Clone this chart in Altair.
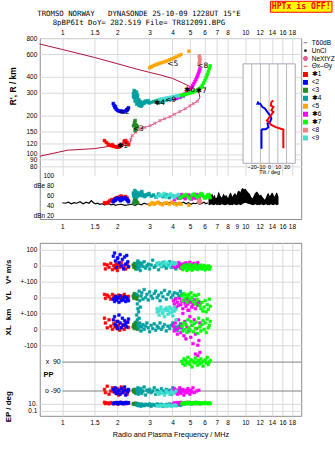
import math
import altair as alt
import pandas as pd

# ---------------- axis / scale values ----------------
F_DOMAIN = [0.7527, 20.23]
R_DOMAIN = [68.2, 800]
DB_DOMAIN = [14, 100]
U_DOMAIN = [-544, 544]
TILT_DOMAIN = [-30, 30]

freq_ticks_top = [1, 1.5, 2, 3, 4, 5, 6, 7, 8, 10, 12, 14, 16, 18]
freq_ticks_mid = [1, 1.5, 2, 3, 4, 5, 6, 7, 8, 9, 10, 12, 14, 16, 18]
r_ticks = [80, 90, 100, 120, 150, 200, 300, 400, 600, 800]
db_ticks = [20, 40, 60, 80, 100]
db_tick_labels = ["dBn 20", "40", "60", "dBe 80", "100"]
low_ticks = [500, 400, 300, 200, 100, 0, -100, -469, -512]
low_tick_labels = ["100", "0", "+-100", "0", "+-100", "0", "-100", "10.", "0.1"]
tilt_ticks = [-20, -10, 0, 10, 20]

# ---------------- legend / traces ----------------
trace_names = ["\u27311", "<2", "<3", "\u27314", "<5", "\u27316", "\u27317", "<8", "<9"]
trace_colors = ["#ff0000", "#0000ff", "#228b22", "#00a0a0", "#ffa500",
                "#ff00ff", "#00ff00", "#f08080", "#40e0d0"]
extra_names = ["T60dB", "UnCl", "NeXtYZ", "\u0398x\u2012\u0398y"]
extra_colors = ["#9090a8", "#000000", "#e06090", "#e07070"]

# top panel traces: frequency (MHz), virtual range R' (km), amplitude (dB)
t1_f = [1.70, 1.74, 1.78, 1.82, 1.86, 1.90, 1.94, 1.98, 2.02, 2.06, 2.10, 2.14, 2.18, 2.22, 2.26, 2.30, 1.88, 2.08]
t1_r = [127, 123, 119, 117, 116, 115, 114, 113, 113, 114, 116, 119, 126, 127, 123, 118, 118, 117]
t1_amp = [46, 45, 47, 50, 52, 51, 54, 56, 55, 58, 59, 57, 56, 58, 55, 50, 49, 53]

t2_f = [1.90, 1.92, 1.94, 1.97, 2.00, 2.04, 2.08, 2.12, 2.16, 2.20, 2.24, 2.28, 2.30, 1.95, 2.10, 2.26]
t2_r = [247, 238, 230, 224, 219, 216, 214, 213, 213, 215, 219, 224, 229, 234, 216, 221]
t2_amp = [48, 50, 52, 54, 55, 53, 50, 52, 54, 56, 53, 50, 48, 51, 55, 52]

t3_f = [2.45, 2.48, 2.50, 2.50, 2.50, 2.52, 2.55, 2.58, 2.48, 2.53]
t3_r = [166, 168, 152, 166, 182, 170, 165, 163, 175, 158]
t3_amp = [45, 48, 52, 55, 50, 53, 47, 46, 51, 49]

t4_f = [2.47, 2.50, 2.52, 2.49, 2.54, 2.47, 2.52, 2.57, 2.50, 2.60, 2.66, 2.72, 2.55, 2.63, 2.70,
        2.76, 2.82, 2.90, 2.98, 3.06, 3.15, 3.25, 3.35, 3.45, 3.55, 3.70, 3.85, 4.00, 4.20, 4.40,
        4.60, 4.80, 4.98, 2.45, 2.55, 2.58, 2.62, 2.68, 2.74, 2.45, 2.56, 2.64, 2.80, 2.86, 2.95]
t4_r = [312, 300, 305, 290, 282, 275, 270, 262, 258, 252, 248, 240, 245, 238, 236,
        250, 255, 254, 250, 252, 256, 258, 250, 254, 257, 262, 266, 266, 270, 275,
        283, 295, 311, 295, 300, 285, 265, 255, 248, 280, 272, 244, 248, 258, 260]
t4_amp = [58, 62, 66, 70, 64, 60, 67, 63, 59, 65, 61, 68, 57, 63, 66,
          60, 58, 62, 64, 59, 61, 57, 63, 60, 58, 62, 56, 60, 58, 55,
          57, 60, 58, 63, 66, 61, 64, 60, 62, 65, 59, 63, 61, 60, 62]

t5_f = [3.00, 3.05, 3.10, 3.18, 3.25, 3.33, 3.42, 3.52, 3.62, 3.72, 3.85, 3.97, 4.10, 4.22, 4.35, 4.45, 4.92]
t5_r = [470, 476, 482, 490, 497, 503, 510, 517, 523, 530, 540, 550, 562, 572, 585, 595, 632]
t5_amp = [42, 44, 46, 43, 45, 47, 44, 42, 45, 46, 43, 47, 44, 42, 45, 43, 41]

t6_f = [4.10, 4.20, 4.30, 4.40, 4.50, 4.60, 4.70, 4.80, 4.90, 5.00, 5.08, 5.15, 5.22, 5.30, 5.37, 5.44, 5.50, 5.55, 5.60, 5.65]
t6_r = [270, 273, 276, 280, 285, 290, 296, 302, 310, 320, 330, 340, 352, 365, 380, 395, 410, 425, 442, 460]
t6_amp = [52, 58, 55, 60, 62, 57, 54, 59, 61, 56, 53, 60, 58, 55, 57, 62, 59, 54, 56, 60]

t7_f = [4.40, 4.50, 4.62, 4.75, 4.88, 5.00, 5.12, 5.25, 5.38, 5.50, 5.62, 5.72, 5.82, 5.92, 6.02, 6.12, 6.20, 6.28, 6.36, 6.42]
t7_r = [286, 288, 290, 293, 296, 299, 302, 306, 311, 316, 322, 330, 342, 358, 375, 395, 415, 438, 462, 485]
t7_amp = [55, 58, 60, 62, 57, 54, 61, 63, 59, 56, 60, 64, 62, 58, 55, 57, 60, 62, 59, 56]

t8_f = [5.60, 5.62, 5.64, 5.66, 5.63, 5.61]
t8_r = [500, 515, 530, 548, 565, 580]
t8_amp = [48, 50, 46, 49, 51, 47]

t9_f = [3.30, 3.40, 3.50, 3.60, 3.70, 3.80, 3.90, 4.00, 4.10, 4.20, 4.30]
t9_r = [262, 266, 268, 270, 272, 274, 276, 278, 280, 282, 284]
t9_amp = [58, 62, 60, 64, 57, 61, 63, 59, 56, 60, 62]

# trace number markers in the top panel
mark_f = [2.13, 2.18, 2.60, 3.40, 4.02, 4.96, 5.74, 5.85, 3.92]
mark_r = [116, 214, 157, 250, 502, 317, 309, 485, 261]

# profile lines (top panel)
prof_hi_f = [0.7527, 1.0, 1.5, 2.0, 2.5, 3.0, 3.5, 4.0, 4.5, 4.87, 5.19, 5.46, 5.6, 5.65, 5.57, 5.46]
prof_hi_r = [719, 652, 565, 505, 462, 432, 410, 388, 360, 341, 327, 312, 294, 276, 266, 257]
nextyz_f = [5.46, 5.2, 4.98, 4.7, 4.39, 4.1, 3.88, 3.62, 3.42, 3.2, 3.02, 2.82, 2.66, 2.52, 2.41, 2.37]
nextyz_r = [257, 247, 237, 225, 214, 204, 195, 188, 182, 173, 166, 161, 157, 148, 139, 130]
prof_lo_f = [0.7527, 1.07, 1.5, 1.83, 2.1, 2.33, 2.35, 2.37]
prof_lo_r = [96, 107, 110, 115, 116, 117, 124, 130]

# tilt inset
thx_tilt = [4.9, 2.6, 1.9, 4.9, 2.6, 4.9, 1.9, -0.8, -2.6, 0.0, 1.9, 7.7, 13.4, 16.3, 16.3]
thx_r = [261, 254, 239, 232, 219, 213, 200, 189, 182, 177, 169, 162, 157, 155, 111]
thy_tilt = [-12.6, -13.4, -10.3, -7.7, -4.9, -1.9, 1.1, 2.6, 1.1, -1.9, -0.8, -3.8, -7.7, -8.8, -8.8]
thy_r = [256, 246, 246, 232, 226, 212, 199, 189, 178, 173, 162, 156, 156, 153, 110]
inset_tilt = [-30, 30]
inset_r = [504, 84.5]

# amplitude panel: noise line and bursts
noise_f = [1.00, 1.04, 1.08, 1.12, 1.16, 1.20, 1.25, 1.30, 1.35, 1.40, 1.44, 1.48, 1.52, 1.56, 1.60, 1.65,
           1.70, 1.75, 1.80, 1.85, 1.90, 1.95, 2.00, 2.10, 2.20, 2.30, 2.40, 2.50, 2.60, 2.70, 2.80, 2.90,
           3.00, 3.10, 3.20, 3.30, 3.40, 3.50, 3.60, 3.70, 3.80, 3.90, 4.00, 4.15, 4.30, 4.45, 4.60, 4.75,
           4.90, 5.05, 5.20, 5.35, 5.50, 5.65, 5.80, 5.95, 6.10, 6.25]
noise_db = [46, 45, 47, 44, 46, 45, 48, 44, 47, 45, 50, 46, 44, 45, 43, 44,
            42, 43, 44, 42, 43, 41, 42, 43, 41, 42, 43, 41, 44, 42, 45, 43,
            44, 46, 43, 45, 47, 44, 46, 43, 45, 47, 44, 46, 43, 45, 47, 44,
            46, 43, 45, 44, 46, 43, 45, 47, 44, 46]
burst_f = [6.30, 6.40, 6.50, 6.60, 6.70, 6.80, 6.90, 7.00, 7.15, 7.30, 7.45, 7.60, 7.75, 7.90, 8.05, 8.20,
           8.35, 8.50, 8.65, 8.80, 8.95, 9.10, 9.25, 9.40, 9.55, 9.70, 9.85, 10.0, 10.2, 10.4, 10.6, 10.8,
           11.0, 11.2, 11.4, 11.6, 11.8, 12.0, 12.2, 12.4, 12.6, 12.8, 13.0, 13.2, 13.4, 13.6, 13.8, 14.0,
           14.2, 14.4, 14.6, 14.8, 15.0, 15.2]
burst_top = [55, 66, 60, 64, 58, 62, 55, 57, 68, 60, 56, 64, 59, 61, 55, 63,
             66, 58, 62, 65, 60, 68, 70, 66, 73, 75, 72, 74, 70, 66, 63, 57,
             55, 62, 66, 68, 64, 60, 62, 58, 55, 52, 57, 63, 65, 59, 62, 66,
             64, 58, 61, 66, 64, 58]
burst_base = [42, 41, 43, 42, 41, 42, 43, 41, 42, 41, 43, 42, 41, 42, 43, 41,
              42, 41, 43, 42, 41, 42, 43, 41, 42, 44, 45, 46, 45, 44, 43, 42,
              41, 42, 43, 41, 42, 41, 43, 42, 41, 42, 43, 41, 42, 41, 43, 42,
              41, 42, 43, 41, 42, 42]

# lower panel: V* (m/s), YL (km), XL (km), PP (deg), EP (deg)
l1_f = [1.70, 1.72, 1.76, 1.80, 1.84, 1.88, 1.91, 1.94, 1.97, 2.00, 2.03, 2.06, 2.10, 2.14, 2.18, 2.22, 2.26, 2.30]
l1_v = [10, -20, 5, -10, 15, -25, 0, -15, 10, -30, 5, -10, 20, -5, 0, -20, 12, -8]
l1_yl = [20, -5, 15, 5, -10, 20, 0, 10, -15, 5, 15, -5, 10, 0, 20, 5, -10, 8]
l1_xl = [70, 40, 10, 60, 20, 0, 35, 15, 50, 5, 25, -5, 10, 30, 0, 20, 45, 12]
l1_pp = [-80, -100, -60, -110, -90, -70, -95, -85, -105, -75, -115, -90, -65, -100, -80, -95, -110, -85]
l1_ep = [30, 12, 20, 10, 25, 15, 11, 18, 14, 22, 10, 16, 28, 12, 19, 13, 24, 17]

l2_f = [1.90, 1.93, 1.95, 1.98, 2.01, 2.04, 2.07, 2.10, 2.13, 2.16, 2.19, 2.22, 2.25, 2.28, 2.30, 2.00]
l2_v = [60, 80, 30, -10, 50, 20, 70, 0, 40, -20, 55, 10, 65, 25, -5, 45]
l2_yl = [-10, -25, 5, -15, 0, -30, 10, -20, -5, -15, 5, -25, 0, -10, -20, -5]
l2_xl = [60, 80, 30, 20, 50, 90, 40, 10, 70, 25, 55, 35, 15, 45, 65, 5]
l2_pp = [-80, -95, -70, -105, -90, -85, -110, -75, -100, -90, -65, -115, -85, -95, -80, -100]
l2_ep = [12, 20, 15, 25, 10, 18, 30, 14, 22, 11, 16, 28, 13, 19, 24, 17]

l3_f = [2.44, 2.46, 2.48, 2.50, 2.52, 2.54, 2.56, 2.58, 2.47, 2.53]
l3_v = [5, -10, 15, 0, -20, 10, -5, 20, 0, -15]
l3_yl = [10, -5, 15, 0, 20, 5, -10, 10, 25, 0]
l3_xl = [15, 30, 5, 40, 20, 10, 35, 0, 25, 45]
l3_pp = [-85, -95, -80, -100, -90, -88, -92, -98, -82, -105]
l3_ep = [10, 12, 9, 14, 11, 10, 13, 9, 12, 15]

l4_f = [2.55, 2.57, 2.59, 2.61, 2.63, 2.65, 2.67, 2.69, 2.72, 2.76, 2.80, 2.85, 2.90, 2.95, 3.00, 3.06, 3.12, 3.18,
        3.24, 3.30, 3.36, 3.42, 3.48, 3.55, 3.62, 3.70, 3.78, 3.86, 3.94, 4.02, 4.10, 4.18, 4.26, 4.34, 4.42, 4.50]
l4_v = [10, -20, 30, 0, -10, 20, -30, 5, 15, -5, 25, -15, 0, 10, -20, 5, 35, -10,
        0, 15, -25, 10, -5, 20, 0, -15, 5, 25, -10, 0, 15, -20, 5, -5, 10, 0]
l4_yl = [20, -40, -70, -90, 40, -20, -60, 10, 30, -10, 50, 0, 20, -15, 35, 10, -5, 25,
         40, 0, 15, -20, 30, 5, 45, -10, 20, 35, 0, 15, 30, -5, 25, 10, 40, 20]
l4_xl = [90, 60, 30, 10, 70, 40, 20, -10, 15, 30, 0, 20, 40, 10, -15, 25, 5, 35,
         -5, 20, 10, 40, 0, 15, 30, -10, 20, 5, 25, 40, 0, 15, -5, 20, 35, 10]
l4_pp = [-80, -100, -70, -110, -90, -85, -95, -75, -105, -90, -65, -115, -85, -95, -80, -100, -90, -70,
         -110, -85, -95, -100, -75, -90, -105, -80, -95, -85, -110, -70, -90, -100, -85, -95, -80, -90]
l4_ep = [5, 8, 3, 10, 6, 4, 7, 2, 9, 5, 3, 8, 6, 4, 10, 2, 7, 5,
         3, 9, 6, 4, 8, 2, 5, 7, 3, 10, 4, 6, 8, 3, 5, 7, 4, 6]

l6_f = [4.05, 4.10, 4.15, 4.20, 4.26, 4.32, 4.38, 4.44, 4.50, 4.56, 4.62, 4.68, 4.74, 4.80, 4.86, 4.92, 4.98, 5.04,
        5.10, 5.18, 5.26, 5.34, 5.42, 5.50, 5.58, 5.65]
l6_v = [5, -10, 15, 0, -5, 20, 10, -15, 5, 0, 12, -8, 18, -3, 8, -12, 22, 0, -6, 10, 15, -10, 5, 20, 0, -5]
l6_yl = [-20, -40, -10, -60, -30, -50, -5, -45, -25, -70, -15, -35, -55, -10, -40, -80, -20, -30, -60, -45,
         -15, -70, -35, -50, -25, -40]
l6_xl = [20, -10, 40, 0, -30, 60, 10, -20, 30, 100, -40, 50, -60, 15, 120, -10, 80, -50, 25, -90, 60, -30, 5,
         -100, -70, 40]
l6_pp = [-90, -75, -100, -85, -110, -95, -70, -105, -90, -80, -115, -95, -85, -100, -75, -90, -110, -85, -95,
         -70, -100, 140, -90, 130, -85, 150]
l6_ep = [12, 20, 8, 15, 25, 10, 18, 30, 14, 9, 22, 11, 16, 28, 13, 19, 24, 17, 10, 21, 15, 12, 26, 14, 18, 11]

l7_f = [4.50, 4.56, 4.62, 4.68, 4.74, 4.80, 4.86, 4.92, 4.98, 5.05, 5.12, 5.19, 5.26, 5.33, 5.40, 5.48, 5.56, 5.64,
        5.72, 5.80, 5.88, 5.96, 6.04, 6.12, 6.20, 6.28, 6.36, 6.44]
l7_v = [-10, -25, 0, -15, 5, -30, -5, -20, 8, -12, -28, 0, -18, 6, -8, -24, -2, -15, 4, -20, -10, 2, -26, -6,
        -14, 0, -22, -8]
l7_yl = [10, -20, 25, -5, 15, -30, 5, 20, -10, 30, 0, -25, 15, -40, 10, -15, 20, -50, -70, -30, -85, -60, -20,
         -90, -45, -75, -10, -55]
l7_xl = [20, -10, 40, 0, 30, -20, 60, 10, -5, 50, 25, -15, 35, 5, 45, -25, 70, 15, -10, 30, 55, 0, 40, -20, 65,
         10, 25, 50]
l7_pp = [95, 80, 110, 70, 100, 85, 120, 90, 75, 105, 60, 95, 85, 115, 90, 70, 100, 80, 110, 90, 65, 95, 105, 85,
         120, 75, 90, 100]
l7_ep = [12, 20, 8, 15, 25, 10, 18, 30, 14, 9, 22, 11, 16, 28, 13, 19, 24, 17, 10, 21, 15, 12, 26, 14, 18, 11, 20, 13]

l9_f = [3.30, 3.38, 3.46, 3.54, 3.62, 3.70, 3.78, 3.86, 3.94, 4.02, 4.10, 4.18]
l9_v = [10, 20, 0, 15, 25, 5, 18, -5, 12, 22, 8, 15]
l9_yl = [-70, -85, -60, -90, -75, -65, -80, -95, -70, -85, -60, -75]
l9_xl = [110, 90, 130, 100, 80, 120, 95, 140, 105, 85, 115, 60]
l9_pp = [-100, -110, -95, -105, -115, -90, -100, -110, -95, -105, -100, -90]
l9_ep = [3, 2, 4, 3, 5, 2, 3, 4, 2, 3, 5, 4]

pp_line_u = [-206, -388]
pp_labels = ["x\u00a0\u00a090", "o\u00a0-90"]
low_titles = ["V* m/s", "YL", "km", "XL", "EP / deg"]
low_title_u = [362, 212, 94, -6, -487]

# ---------------- tables ----------------
top_sets = [(t1_f, t1_r, t1_amp), (t2_f, t2_r, t2_amp), (t3_f, t3_r, t3_amp), (t4_f, t4_r, t4_amp),
            (t5_f, t5_r, t5_amp), (t6_f, t6_r, t6_amp), (t7_f, t7_r, t7_amp), (t8_f, t8_r, t8_amp),
            (t9_f, t9_r, t9_amp)]
rows = []
for name, (fs, rs, amps) in zip(trace_names, top_sets):
    for f, r, a in zip(fs, rs, amps):
        rows.append({"trace": name, "f": f, "R": r, "dB": a})
top_df = pd.DataFrame(rows)

low_sets = [(0, l1_f, l1_v, l1_yl, l1_xl, l1_pp, l1_ep), (1, l2_f, l2_v, l2_yl, l2_xl, l2_pp, l2_ep),
            (2, l3_f, l3_v, l3_yl, l3_xl, l3_pp, l3_ep), (3, l4_f, l4_v, l4_yl, l4_xl, l4_pp, l4_ep),
            (5, l6_f, l6_v, l6_yl, l6_xl, l6_pp, l6_ep), (6, l7_f, l7_v, l7_yl, l7_xl, l7_pp, l7_ep),
            (8, l9_f, l9_v, l9_yl, l9_xl, l9_pp, l9_ep)]
rows = []
for idx, fs, vs, yls, xls, pps, eps in low_sets:
    for f, v, yl, xl, pp, ep in zip(fs, vs, yls, xls, pps, eps):
        name = trace_names[idx]
        rows.append({"trace": name, "f": f, "u": 400 + v})
        rows.append({"trace": name, "f": f, "u": 200 + yl})
        rows.append({"trace": name, "f": f, "u": xl})
        rows.append({"trace": name, "f": f, "u": -297 + 1.011 * pp})
        rows.append({"trace": name, "f": f, "u": -469 + 21.5 * (math.log10(ep) - 1)})
low_df = pd.DataFrame(rows)

prof_df = pd.DataFrame(
    [{"seg": "hi", "o": i, "f": f, "R": r} for i, (f, r) in enumerate(zip(prof_hi_f, prof_hi_r))]
    + [{"seg": "lo", "o": i, "f": f, "R": r} for i, (f, r) in enumerate(zip(prof_lo_f, prof_lo_r))])
nxt_df = pd.DataFrame({"f": nextyz_f, "R": nextyz_r, "o": list(range(len(nextyz_f)))})
mark_df = pd.DataFrame({"lab": trace_names, "f": mark_f, "R": mark_r})
thx_df = pd.DataFrame({"tilt": thx_tilt, "R": thx_r, "o": list(range(len(thx_r)))})
thy_df = pd.DataFrame({"tilt": thy_tilt, "R": thy_r, "o": list(range(len(thy_r)))})
box_df = pd.DataFrame({"t0": [inset_tilt[0]], "t1": [inset_tilt[1]], "r0": [inset_r[0]], "r1": [inset_r[1]]})
tgrid_df = pd.DataFrame({"tilt": tilt_ticks, "r0": [inset_r[0]] * 5, "r1": [inset_r[1]] * 5})
noise_df = pd.DataFrame({"f": noise_f, "dB": noise_db})
burst_df = pd.DataFrame({"f": burst_f, "top": burst_top, "base": burst_base})
ppl_df = pd.DataFrame({"u": pp_line_u, "f0": [1.0, 1.0], "f1": [F_DOMAIN[1], F_DOMAIN[1]], "lab": pp_labels,
                       "fl": [0.98, 0.98]})
pp_df = pd.DataFrame({"lab": ["PP"], "f": [0.79], "u": [-287]})
lt_df = pd.DataFrame({"lab": low_titles, "u": low_title_u})
hptx_df = pd.DataFrame({"lab": ["HPTx is OFF!"]})

# ---------------- scales, axes, encodings ----------------
LAB_FONT = "Liberation Sans"
H1, H_R = 182, 138          # upper frame height, part used by the R' scale
f_scale = alt.Scale(type="log", domain=F_DOMAIN, nice=False)
r_scale = alt.Scale(type="log", domain=R_DOMAIN, range=[H_R, 0], nice=False)
db_scale = alt.Scale(domain=DB_DOMAIN, range=[H1, H_R], nice=False, zero=False)
u_scale = alt.Scale(domain=U_DOMAIN, nice=False, zero=False)
tilt_scale = alt.Scale(domain=TILT_DOMAIN, range=[204.5, 257], nice=False, zero=False)

ax_f_top = alt.Axis(orient="top", values=freq_ticks_top, format="~g", title=None, labelPadding=3)
ax_f_mid = alt.Axis(orient="bottom", values=freq_ticks_mid, format="~g", title=None, labelPadding=5, grid=False)
ax_f_bot = alt.Axis(orient="bottom", values=freq_ticks_top, format="~g",
                    title="Radio and Plasma Frequency / MHz", titleFontSize=7.3, titleFontWeight="normal",
                    titleFont=LAB_FONT, titlePadding=4, labelPadding=4)
ax_r = alt.Axis(orient="left", values=r_ticks, format="d", labelPadding=3, title="R', R / km", titleX=-22,
                titleY=48, titleFontSize=8.5, titleFont=LAB_FONT, titleFontWeight="bold")
db_expr = " : ".join(f"datum.value == {v} ? '{l}'" for v, l in zip(db_ticks, db_tick_labels)) + " : ''"
ax_db = alt.Axis(orient="left", values=db_ticks, labelExpr=db_expr, title=None, tickSize=0, labelPadding=-14,
                 gridColor={"condition": {"test": "datum.value == 20", "value": "#a8a8ff"}, "value": "#a0a0a0"})
low_expr = " : ".join(f"datum.value == {v} ? '{l}'" for v, l in zip(low_ticks, low_tick_labels)) + " : ''"
ax_u = alt.Axis(values=low_ticks, labelExpr=low_expr, title=None, labelPadding=3)
ax_tilt = alt.Axis(orient="bottom", values=tilt_ticks, format="d", grid=False, offset=-56, labelPadding=1,
                   labelFontSize=5.5, title="Tilt / deg", titleFontSize=5.5, titleFontWeight="normal",
                   titlePadding=0, titleFont=LAB_FONT)

legend_domain = extra_names + trace_names
legend_colors = extra_colors + trace_colors
legend_shapes = ["stroke", "M-0.3,-0.3H0.3V0.3H-0.3Z", "cross", "stroke"] + ["square"] * 9
leg_kw = dict(title=None, orient="none", legendX=264, legendY=1, labelFont=LAB_FONT, labelFontSize=6.6,
              labelColor="black", symbolSize=14, rowPadding=0, clipHeight=7.1, labelOffset=3, padding=0,
              symbolStrokeWidth=1.2, labelLimit=26)
fill_enc = alt.Fill("trace:N", scale=alt.Scale(domain=legend_domain, range=legend_colors),
                    legend=alt.Legend(**leg_kw))
stroke_enc = alt.Stroke("trace:N", scale=alt.Scale(domain=legend_domain, range=legend_colors),
                        legend=alt.Legend(**leg_kw))
shape_enc = alt.Shape("trace:N", scale=alt.Scale(domain=legend_domain, range=legend_shapes),
                      legend=alt.Legend(**leg_kw))

W = 263

# ---------------- upper frame: R' vs f, tilt inset, amplitude ----------------
xf1 = lambda fld="f": alt.X(f"{fld}:Q", scale=f_scale, axis=ax_f_top)
yr = lambda fld="R", ax=ax_r: alt.Y(f"{fld}:Q", scale=r_scale, axis=ax)

prof = alt.Chart(prof_df).mark_line(color="#b0103c", strokeWidth=1).encode(
    x=xf1(), y=yr(), detail="seg:N", order="o:Q")
nxt_line = alt.Chart(nxt_df).mark_line(color="#e0608c", strokeWidth=1).encode(x=xf1(), y=yr(), order="o:Q")
nxt_pts = alt.Chart(nxt_df).mark_point(shape="cross", filled=True, size=14, angle=45, color="#e0608c").encode(
    x=xf1(), y=yr())
sc1 = alt.Chart(top_df).mark_point(filled=True, size=8, opacity=1, strokeWidth=0.6).encode(
    x=xf1(), y=yr(), fill=fill_enc, stroke=stroke_enc, shape=shape_enc)
marks1 = alt.Chart(mark_df).mark_text(font="DejaVu Sans", fontSize=7.5, color="black").encode(
    x=xf1(), y=yr(), text="lab:N")
hbox = alt.Chart(hptx_df).mark_rect(fill="#ffff00", stroke="#ff0000", strokeWidth=1).encode(
    x=alt.value(232), x2=alt.value(294), y=alt.value(-37), y2=alt.value(-26))
htxt = alt.Chart(hptx_df).mark_text(font="DejaVu Sans Mono", fontSize=8.2, fontWeight="bold",
                                    color="#ff0000", baseline="middle").encode(
    x=alt.value(263), y=alt.value(-31.3), text="lab:N")
freq_layer = alt.layer(prof, nxt_line, nxt_pts, sc1, marks1, hbox, htxt)

xt = lambda fld="tilt": alt.X(f"{fld}:Q", scale=tilt_scale, axis=ax_tilt)
ibox = alt.Chart(box_df).mark_rect(fill="white", stroke="#a8a8b8", strokeWidth=1).encode(
    x=xt("t0"), x2="t1:Q", y=yr("r0", None), y2="r1:Q")
igrid = alt.Chart(tgrid_df).mark_rule(color="#b8b8b8", strokeWidth=1).encode(
    x=xt(), y=yr("r0", None), y2="r1:Q")
ithx = alt.Chart(thx_df).mark_line(color="#ff0000", strokeWidth=2).encode(x=xt(), y=yr("R", None), order="o:Q")
ithy = alt.Chart(thy_df).mark_line(color="#0000ff", strokeWidth=2).encode(x=xt(), y=yr("R", None), order="o:Q")
tilt_layer = alt.layer(ibox, igrid, ithy, ithx)

xf2 = alt.X("f:Q", scale=f_scale, axis=ax_f_mid)
noise = alt.Chart(noise_df).mark_line(color="black", strokeWidth=1.2).encode(
    x=xf2, y=alt.Y("dB:Q", scale=db_scale, axis=ax_db))
burst = alt.Chart(burst_df).mark_area(color="black").encode(
    x=xf2, y=alt.Y("top:Q", scale=db_scale, axis=ax_db), y2="base:Q")
amp = alt.Chart(top_df).mark_point(filled=True, size=8, opacity=1, strokeWidth=0.6).encode(
    x=xf2, y=alt.Y("dB:Q", scale=db_scale, axis=ax_db), fill=fill_enc, stroke=stroke_enc, shape=shape_enc)
amp_layer = alt.layer(noise, burst, amp)

p1 = alt.layer(freq_layer, tilt_layer, amp_layer) \
    .resolve_scale(x="independent", y="independent") \
    .resolve_axis(x="independent", y="independent") \
    .properties(width=W, height=H1)

# ---------------- lower panel : V*, YL, XL, PP, EP ----------------
xf3 = lambda fld="f": alt.X(f"{fld}:Q", scale=f_scale, axis=ax_f_bot)
yu = alt.Y("u:Q", scale=u_scale, axis=ax_u)
pprule = alt.Chart(ppl_df).mark_rule(color="#808080", strokeWidth=1).encode(x=xf3("f0"), x2="f1:Q", y=yu)
pplab = alt.Chart(ppl_df).mark_text(align="right", baseline="middle", font=LAB_FONT, fontSize=7,
                                    color="black").encode(x=xf3("fl"), y=yu, text="lab:N")
pptxt = alt.Chart(pp_df).mark_text(align="left", baseline="middle", font=LAB_FONT, fontSize=7.5,
                                   fontWeight="bold", color="black").encode(x=xf3(), y=yu, text="lab:N")
ltit = alt.Chart(lt_df).mark_text(angle=270, baseline="middle", font=LAB_FONT, fontSize=8,
                                  fontWeight="bold", color="black").encode(
    x=alt.value(-31), y=yu, text="lab:N")
lowpts = alt.Chart(low_df).mark_point(filled=True, size=7, opacity=1, strokeWidth=0.6).encode(
    x=xf3(), y=yu, fill=fill_enc, stroke=stroke_enc, shape=shape_enc)
p3 = alt.layer(pprule, lowpts, pplab, pptxt, ltit).properties(width=W, height=174)

chart = alt.vconcat(p1, p3, spacing=24, bounds="flush") \
    .resolve_scale(fill="shared", stroke="shared", shape="shared") \
    .properties(
        title=alt.TitleParams(
            text="TROMSO NORWAY\u00a0\u00a0\u00a0DYNASONDE 25-10-09 1228UT 15\u00b0E",
            subtitle="8pBP6It DoY= 282.519 File= TR812091.BPG",
            font="DejaVu Sans Mono", fontSize=7.4, fontWeight="normal", color="black",
            subtitleFont="DejaVu Sans Mono", subtitleFontSize=7.4, subtitleColor="black",
            subtitlePadding=1.5, anchor="middle", offset=-26, dx=-31),
        padding={"left": 4, "top": -1, "right": 0, "bottom": 0},
        background="white",
    ).configure_view(stroke="#8c8c8c", strokeWidth=1) \
    .configure_axis(labelFont=LAB_FONT, labelFontSize=6.5, labelColor="black", gridColor="#dadada",
                    gridWidth=1, domain=False, ticks=False, labelOverlap=False, labelFlush=False)

chart.save("out.html", embed_options={"renderer": "svg", "actions": False})
